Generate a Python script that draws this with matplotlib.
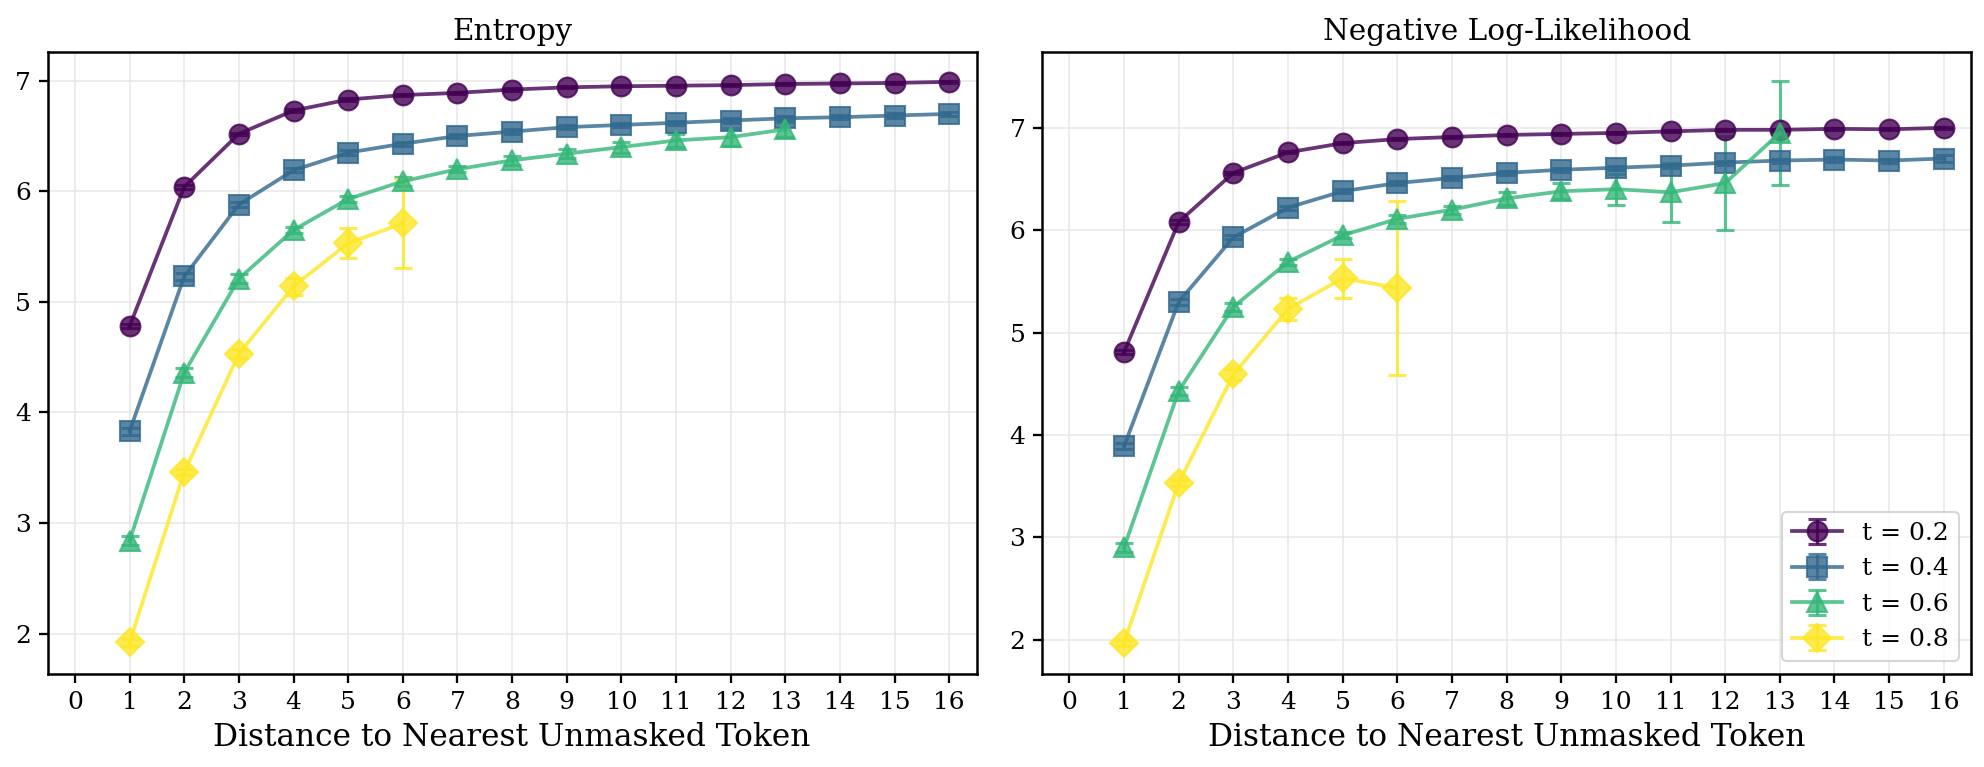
import matplotlib
matplotlib.use("Agg")
import matplotlib.pyplot as plt
import numpy as np

# distances on the x axis
dist = list(range(1, 17))

t_labels = ["t = 0.2", "t = 0.4", "t = 0.6", "t = 0.8"]
markers = ["o", "s", "^", "D"]

# Entropy (mean, error) per t
ent_02 = [4.78, 6.04, 6.52, 6.73, 6.83, 6.87, 6.89, 6.92, 6.94, 6.95, 6.955, 6.96, 6.97, 6.975, 6.98, 6.99]
ent_02_err = [0.02, 0.02, 0.01, 0.01, 0.01, 0.01, 0.01, 0.01, 0.01, 0.01, 0.01, 0.01, 0.01, 0.01, 0.01, 0.01]
ent_04 = [3.83, 5.23, 5.88, 6.19, 6.35, 6.43, 6.50, 6.54, 6.58, 6.60, 6.62, 6.64, 6.66, 6.67, 6.685, 6.70]
ent_04_err = [0.03, 0.03, 0.02, 0.02, 0.02, 0.02, 0.02, 0.02, 0.02, 0.02, 0.02, 0.02, 0.02, 0.02, 0.02, 0.02]
ent_06 = [2.84, 4.36, 5.21, 5.65, 5.93, 6.09, 6.20, 6.28, 6.34, 6.40, 6.46, 6.49, 6.56]
ent_06_err = [0.04, 0.04, 0.04, 0.03, 0.03, 0.04, 0.03, 0.04, 0.04, 0.05, 0.06, 0.08, 0.07]
ent_08 = [1.92, 3.46, 4.53, 5.14, 5.53, 5.71]
ent_08_err = [0.03, 0.03, 0.04, 0.075, 0.135, 0.40]

# Negative log-likelihood (mean, error) per t
nll_02 = [4.81, 6.08, 6.56, 6.76, 6.85, 6.89, 6.91, 6.93, 6.94, 6.95, 6.965, 6.98, 6.98, 6.99, 6.985, 7.00]
nll_02_err = [0.02, 0.02, 0.01, 0.01, 0.01, 0.01, 0.01, 0.01, 0.01, 0.01, 0.01, 0.01, 0.01, 0.01, 0.01, 0.01]
nll_04 = [3.89, 5.30, 5.93, 6.22, 6.38, 6.46, 6.51, 6.56, 6.59, 6.61, 6.63, 6.66, 6.68, 6.69, 6.68, 6.70]
nll_04_err = [0.03, 0.03, 0.02, 0.02, 0.02, 0.02, 0.02, 0.02, 0.02, 0.02, 0.02, 0.02, 0.02, 0.02, 0.02, 0.03]
nll_06 = [2.90, 4.43, 5.25, 5.69, 5.95, 6.11, 6.20, 6.31, 6.38, 6.40, 6.37, 6.46, 6.95]
nll_06_err = [0.04, 0.04, 0.04, 0.03, 0.03, 0.04, 0.04, 0.06, 0.08, 0.15, 0.29, 0.46, 0.51]
nll_08 = [1.97, 3.53, 4.59, 5.23, 5.53, 5.435]
nll_08_err = [0.03, 0.03, 0.05, 0.11, 0.19, 0.85]

entropy = [(ent_02, ent_02_err), (ent_04, ent_04_err), (ent_06, ent_06_err), (ent_08, ent_08_err)]
nll = [(nll_02, nll_02_err), (nll_04, nll_04_err), (nll_06, nll_06_err), (nll_08, nll_08_err)]

plt.rcParams["font.family"] = ["DejaVu Serif"]
colors = plt.cm.viridis(np.linspace(0, 1, 4))

fig = plt.figure(figsize=(1985 / 150, 767 / 150), dpi=150)
ax1 = fig.add_axes([0.024, 0.1213, 0.468, 0.8103])
ax2 = fig.add_axes([0.525, 0.1213, 0.468, 0.8103])
axes = [ax1, ax2]

panels = [("Entropy", entropy), ("Negative Log-Likelihood", nll)]
for ax, (title, series) in zip(axes, panels):
    for (vals, errs), col, mk, lab in zip(series, colors, markers, t_labels):
        x = dist[:len(vals)]
        ax.errorbar(x, vals, yerr=errs, color=col, marker=mk, markersize=9.5,
                    linewidth=1.8, capsize=4.5, elinewidth=1.5, capthick=1.5,
                    alpha=0.8, label=lab)
    ax.set_title(title, fontsize=14.2)
    ax.set_xlabel("Distance to Nearest Unmasked Token", fontsize=15)
    ax.set_xticks(range(0, 17))
    ax.set_xlim(-0.5, 16.5)
    ax.grid(True, color="#e3e3e3", alpha=0.8, linewidth=0.8)
    ax.tick_params(labelsize=12, length=4.5, width=1.1, direction="out")
    for sp in ax.spines.values():
        sp.set_linewidth(1.2)
        sp.set_color("black")

ax2.legend(loc="lower right", fontsize=12, framealpha=0.8, edgecolor="#cccccc")

fig.savefig("out.png", dpi=150)
